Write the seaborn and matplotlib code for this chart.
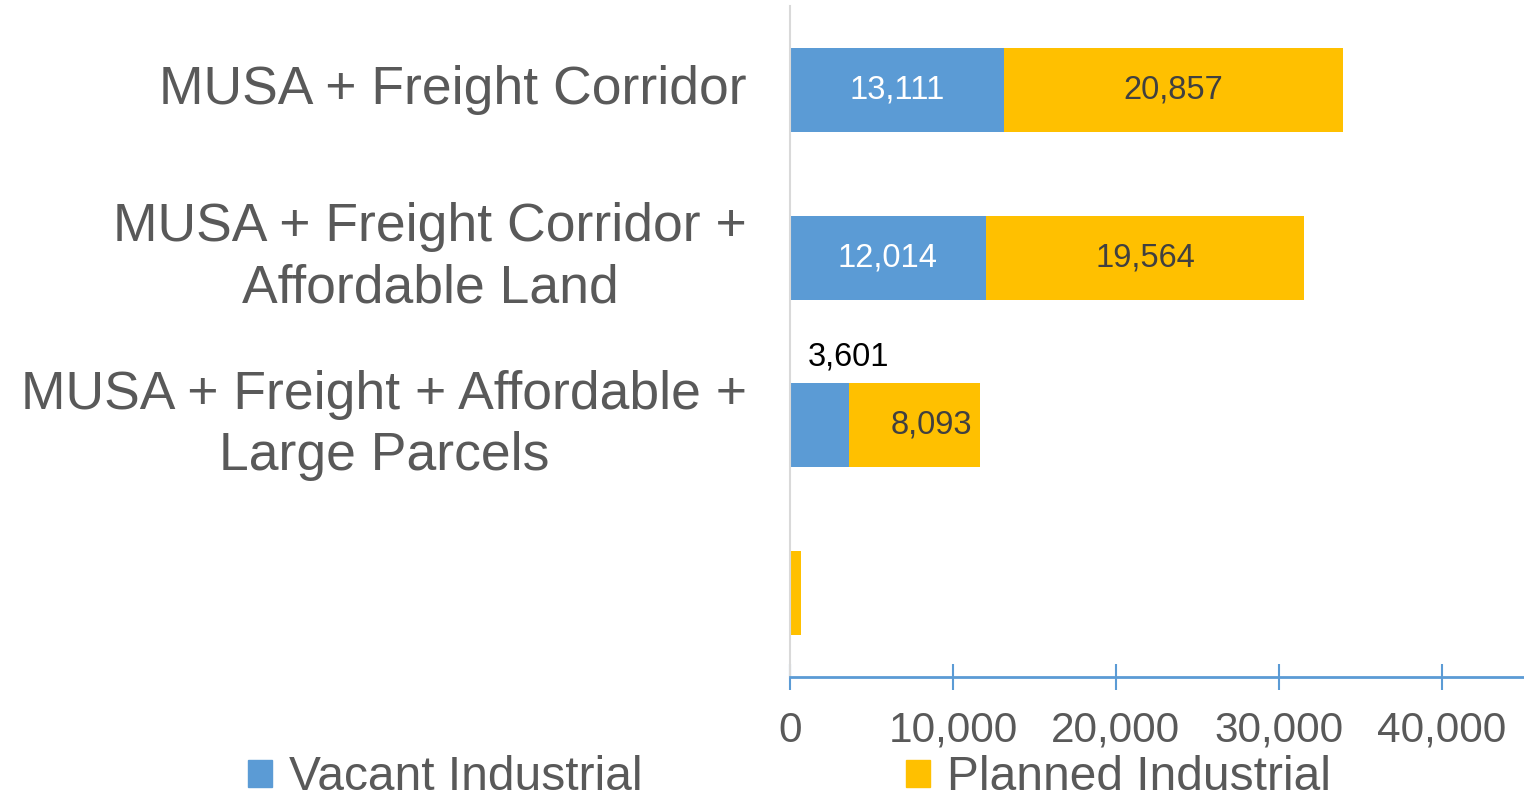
import matplotlib
matplotlib.use("Agg")
import matplotlib.pyplot as plt
import seaborn as sns
from matplotlib.patches import Patch

# dados
categories = ["MUSA + Freight Corridor",
              "MUSA + Freight Corridor +\nAffordable Land",
              "MUSA + Freight + Affordable +\nLarge Parcels",
              " "]
vacant = [13111, 12014, 3601, 0]
planned = [20857, 19564, 8093, 700]
vacant_labels = ["13,111", "12,014", "", ""]
planned_labels = ["20,857", "19,564", "", ""]
xticks = [0, 10000, 20000, 30000, 40000]

blue = "#5B9BD5"
yellow = "#FFC000"
gray = "#595959"

sns.set_style("white")
plt.rcParams["font.family"] = ["Liberation Sans", "DejaVu Sans"]

fig = plt.figure(figsize=(15.24, 8.02), dpi=100)
ax = fig.add_axes([0.5184, 0.1559, 0.4809, 0.8366])

totals = [v + p for v, p in zip(vacant, planned)]
sns.barplot(x=totals, y=categories, color=yellow, width=0.5, orient="h",
            saturation=1, linewidth=0, ax=ax)
sns.barplot(x=vacant, y=categories, color=blue, width=0.5, orient="h",
            saturation=1, linewidth=0, ax=ax)

# rótulos
for i, lab in enumerate(vacant_labels):
    if lab:
        ax.text(vacant[i] / 2, i, lab, ha="center", va="center",
                color="white", fontsize=23.5)
for i, lab in enumerate(planned_labels):
    if lab:
        ax.text(vacant[i] + planned[i] / 2, i, lab, ha="center", va="center",
                color="#404040", fontsize=23.5)
ax.text(vacant[2], 2 - 0.41, "3,601", ha="center", va="center",
        color="black", fontsize=23.5)
ax.text(totals[2] - 500, 2, "8,093", ha="right", va="center",
        color="#404040", fontsize=23.5)

ax.set_xlim(0, 45000)
ax.set_ylim(3.5, -0.5)
ax.set_xticks(xticks)
ax.set_xticklabels([f"{t:,}" for t in xticks])
ax.set_xlabel("")
ax.set_ylabel("")

for s in ["top", "right"]:
    ax.spines[s].set_visible(False)
ax.spines["left"].set_color("#D9D9D9")
ax.spines["left"].set_linewidth(1.5)
ax.spines["bottom"].set_color(blue)
ax.spines["bottom"].set_linewidth(2)

ax.tick_params(axis="x", bottom=True, direction="inout", length=19, width=1.5,
               color=blue, labelsize=30.5, labelcolor=gray, pad=15)
ax.tick_params(axis="y", left=False, length=0, labelsize=38.5,
               labelcolor=gray, pad=31)
for lbl in ax.get_yticklabels():
    lbl.set_multialignment("center")
    lbl.set_linespacing(1.3)
    lbl.set_va("center")

handles = [Patch(color=blue, label="Vacant Industrial"),
           Patch(color=yellow, label="Planned Industrial")]
fig.legend(handles=handles, loc="center", bbox_to_anchor=(0.518, 0.03),
           ncol=2, frameon=False, fontsize=34.5, labelcolor=gray,
           handlelength=0.5, handleheight=0.5, handletextpad=0.35,
           columnspacing=5.5, borderpad=0)

fig.savefig("out.png", dpi=100)
